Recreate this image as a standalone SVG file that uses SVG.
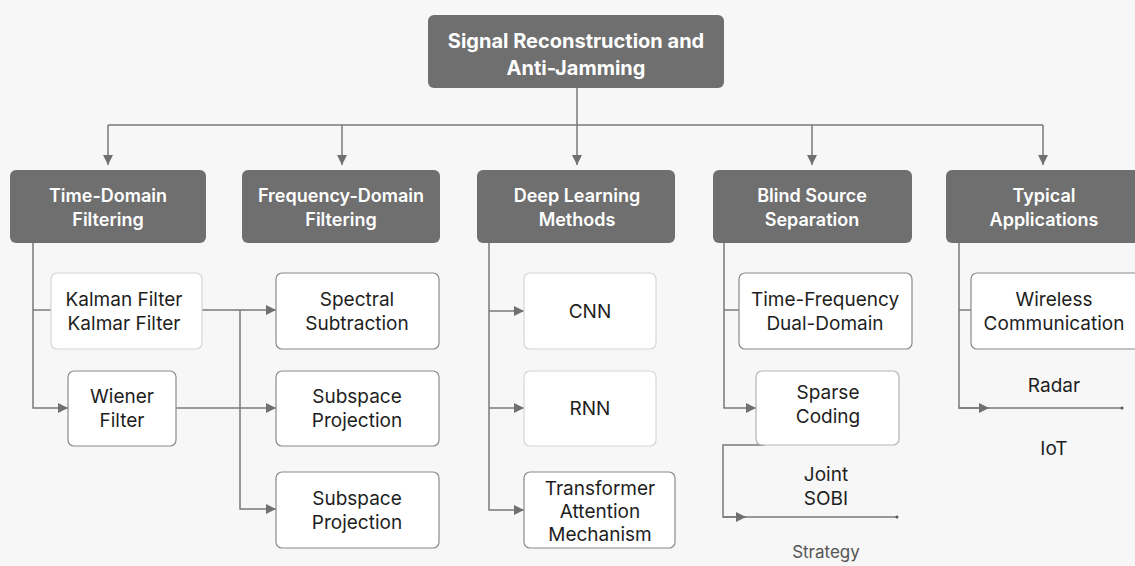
<svg xmlns="http://www.w3.org/2000/svg" width="1135" height="566" viewBox="0 0 1135 566">
<defs>
<marker id="arr" viewBox="0 0 10 10" refX="10" refY="5" markerWidth="10" markerHeight="10" markerUnits="userSpaceOnUse" orient="auto">
<path d="M0,0 L10,5 L0,10 z" fill="#707070"/>
</marker>
<style>
.bg{fill:#f7f7f7}
.cat{fill:#6f6f6f}
.ct{font-family:Inter,"Open Sans",sans-serif;font-size:18px;font-weight:600;fill:#ffffff;text-anchor:middle}
.rt{font-family:Inter,"Open Sans",sans-serif;font-size:20px;font-weight:700;fill:#ffffff;text-anchor:middle}
.box{fill:#ffffff;stroke:#8a8a8a;stroke-width:1.2}
.fbox{fill:#ffffff;stroke:#d6d6d6;stroke-width:1.2}
.t{font-family:Inter,"Open Sans",sans-serif;font-size:19px;fill:#1e1e1e;text-anchor:middle}
.g{fill:#555}
.ln{fill:none;stroke:#7a7a7a;stroke-width:1.5}
</style>
</defs>
<rect class="bg" x="0" y="0" width="1135" height="566"/>

<g id="connectors">
<path class="ln" d="M577,88 V125"/>
<path class="ln" d="M108,125 H1043"/>
<path class="ln" d="M108,125 V165" marker-end="url(#arr)"/>
<path class="ln" d="M342,125 V165" marker-end="url(#arr)"/>
<path class="ln" d="M577,125 V165" marker-end="url(#arr)"/>
<path class="ln" d="M812,125 V165" marker-end="url(#arr)"/>
<path class="ln" d="M1043,125 V165" marker-end="url(#arr)"/>
<path class="ln" d="M33,243 V408 H68" marker-end="url(#arr)"/>
<path class="ln" d="M33,310 H51"/>
<path class="ln" d="M202,310 H276" marker-end="url(#arr)"/>
<path class="ln" d="M240,310 V509 H276" marker-end="url(#arr)"/>
<path class="ln" d="M176,408 H276" marker-end="url(#arr)"/>
<path class="ln" d="M489,243 V510 H524" marker-end="url(#arr)"/>
<path class="ln" d="M489,311 H524" marker-end="url(#arr)"/>
<path class="ln" d="M489,408 H524" marker-end="url(#arr)"/>
<path class="ln" d="M724,243 V408 H756" marker-end="url(#arr)"/>
<path class="ln" d="M724,310 H739"/>
<path class="ln" d="M765,445 H723 V517 H897"/>
<path class="ln" d="M723,517 H746" marker-end="url(#arr)"/>
<circle class="g" cx="897" cy="517" r="1.5"/>
<path class="ln" d="M959,243 V408 H1122"/>
<path class="ln" d="M959,310 H971"/>
<path class="ln" d="M959,408 H989" marker-end="url(#arr)"/>
<circle class="g" cx="1122" cy="408" r="1.5"/>
</g>

<g id="root">
<rect class="cat" x="428" y="15" width="296" height="73" rx="6"/>
<text class="rt" x="576" y="48">Signal Reconstruction and</text>
<text class="rt" x="576" y="75">Anti-Jamming</text>
</g>

<g id="time-domain">
<rect class="cat" x="10" y="170" width="196" height="73" rx="6"/>
<text class="ct" x="108" y="202">Time-Domain</text>
<text class="ct" x="108" y="226">Filtering</text>
</g>
<g id="frequency-domain">
<rect class="cat" x="242" y="170" width="198" height="73" rx="6"/>
<text class="ct" x="341" y="202">Frequency-Domain</text>
<text class="ct" x="341" y="226">Filtering</text>
</g>
<g id="deep-learning">
<rect class="cat" x="477" y="170" width="198" height="73" rx="6"/>
<text class="ct" x="577" y="202">Deep Learning</text>
<text class="ct" x="577" y="226">Methods</text>
</g>
<g id="blind-source">
<rect class="cat" x="713" y="170" width="199" height="73" rx="6"/>
<text class="ct" x="812" y="202">Blind Source</text>
<text class="ct" x="812" y="226">Separation</text>
</g>
<g id="typical-applications">
<rect class="cat" x="946" y="170" width="195" height="73" rx="6"/>
<text class="ct" x="1044" y="202">Typical</text>
<text class="ct" x="1044" y="226">Applications</text>
</g>

<g id="kalman">
<rect class="fbox" x="51" y="273" width="151" height="76" rx="6"/>
<text class="t" x="124" y="306">Kalman Filter</text>
<text class="t" x="124" y="330">Kalmar Filter</text>
</g>
<g id="wiener">
<rect class="box" x="68" y="371" width="108" height="75" rx="6"/>
<text class="t" x="122" y="403">Wiener</text>
<text class="t" x="122" y="427">Filter</text>
</g>
<g id="spectral">
<rect class="box" x="276" y="273" width="163" height="76" rx="6"/>
<text class="t" x="357" y="306">Spectral</text>
<text class="t" x="357" y="330">Subtraction</text>
</g>
<g id="subspace1">
<rect class="box" x="276" y="371" width="163" height="75" rx="6"/>
<text class="t" x="357" y="403">Subspace</text>
<text class="t" x="357" y="427">Projection</text>
</g>
<g id="subspace2">
<rect class="box" x="276" y="472" width="163" height="76" rx="6"/>
<text class="t" x="357" y="505">Subspace</text>
<text class="t" x="357" y="529">Projection</text>
</g>
<g id="cnn">
<rect class="fbox" x="524" y="273" width="132" height="76" rx="6"/>
<text class="t" x="590" y="318">CNN</text>
</g>
<g id="rnn">
<rect class="fbox" x="524" y="371" width="132" height="75" rx="6"/>
<text class="t" x="590" y="415">RNN</text>
</g>
<g id="transformer">
<rect class="box" x="524" y="472" width="151" height="76" rx="6"/>
<text class="t" x="600" y="495">Transformer</text>
<text class="t" x="600" y="518">Attention</text>
<text class="t" x="600" y="541">Mechanism</text>
</g>
<g id="time-frequency">
<rect class="box" x="739" y="273" width="173" height="76" rx="6"/>
<text class="t" x="825" y="306">Time-Frequency</text>
<text class="t" x="825" y="330">Dual-Domain</text>
</g>
<g id="sparse">
<rect class="fbox" x="756" y="371" width="143" height="74" rx="6" style="stroke:#b5b5b5"/>
<text class="t" x="828" y="399">Sparse</text>
<text class="t" x="828" y="423">Coding</text>
</g>
<g id="joint-sobi">
<text class="t" x="826" y="481">Joint</text>
<text class="t" x="826" y="505">SOBI</text>
</g>
<g id="strategy">
<text class="t" x="826" y="558" style="fill:#555;font-size:17px">Strategy</text>
</g>
<g id="wireless">
<rect class="box" x="971" y="273" width="170" height="76" rx="6"/>
<text class="t" x="1054" y="306">Wireless</text>
<text class="t" x="1054" y="330">Communication</text>
</g>
<g id="radar">
<text class="t" x="1054" y="392">Radar</text>
</g>
<g id="iot">
<text class="t" x="1054" y="455">IoT</text>
</g>
</svg>
